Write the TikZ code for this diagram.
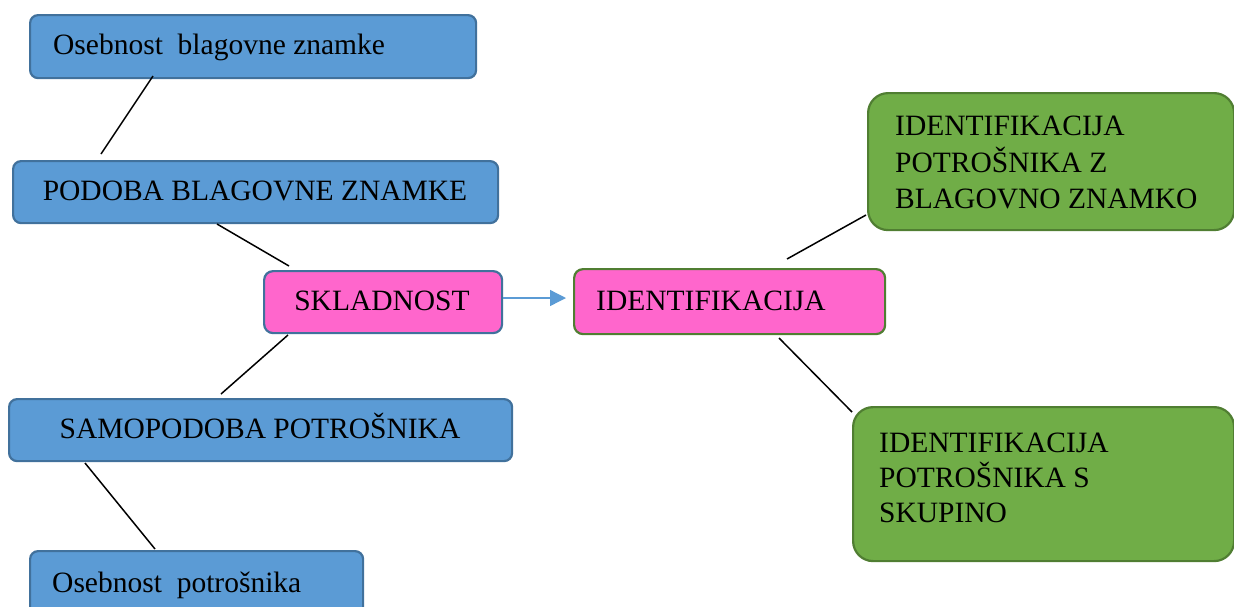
\documentclass[tikz,border=0pt]{standalone}
\usepackage{fontspec}
\setmainfont{Liberation Serif}
\usetikzlibrary{arrows.meta,calc}
\definecolor{bfill}{HTML}{5B9BD5}
\definecolor{bline}{HTML}{41719C}
\definecolor{gfill}{HTML}{70AD47}
\definecolor{gline}{HTML}{507E32}
\definecolor{pfill}{HTML}{FF66CC}
\tikzset{
  box/.style={draw, line width=2.2pt, anchor=north west, inner sep=0pt},
  bluebox/.style={box, fill=bfill, draw=bline, rounded corners=8pt},
  pinkbox/.style={box, fill=pfill, rounded corners=9pt},
  greenbox/.style={box, fill=gfill, draw=gline, rounded corners=20pt},
  txt/.style={inner sep=0pt, font=\fontsize{29.5}{36.5}\selectfont, text=black},
  conn/.style={draw=black, line width=1.5pt},
}
\begin{document}
\begin{tikzpicture}[x=1pt,y=-1pt]
\useasboundingbox (0,0) rectangle (1234,606);
\clip (0,0) rectangle (1234,606);
% boxes
\node[bluebox, minimum width=446pt, minimum height=63pt] (b1) at (29,14) {};
\node[bluebox, minimum width=485pt, minimum height=62pt] (b2) at (12,160) {};
\node[pinkbox, draw=bline, minimum width=238pt, minimum height=62pt] (b3) at (263,270) {};
\node[pinkbox, draw=gline, minimum width=311pt, minimum height=65pt] (b4) at (573,268) {};
\node[bluebox, minimum width=503pt, minimum height=62pt] (b5) at (8,398) {};
\node[bluebox, minimum width=333pt, minimum height=70pt] (b6) at (29,550) {};
\node[greenbox, minimum width=366pt, minimum height=137pt] (g1) at (867,92) {};
\node[greenbox, minimum width=381pt, minimum height=154pt] (g2) at (852,406) {};
% texts
\node[txt, anchor=base west] (t1) at (53,54) {Osebnost\ \ blagovne znamke};
\node[txt, anchor=base] (t2) at (255,200) {PODOBA BLAGOVNE ZNAMKE};
\node[txt, anchor=base] (t3) at (382,310) {SKLADNOST};
\node[txt, anchor=base west] (t4) at (596,310) {IDENTIFIKACIJA};
\node[txt, anchor=base] (t5) at (260,438) {SAMOPODOBA POTROŠNIKA};
\node[txt, anchor=base west] (t6) at (52,592) {Osebnost\ \ potrošnika};
\node[txt, anchor=base west] (t7a) at (895,135) {IDENTIFIKACIJA};
\node[txt, anchor=base west] (t7b) at (895,172) {POTROŠNIKA Z};
\node[txt, anchor=base west] (t7c) at (895,208) {BLAGOVNO ZNAMKO};
\node[txt, anchor=base west] (t8a) at (879,452) {IDENTIFIKACIJA};
\node[txt, anchor=base west] (t8b) at (879,487) {POTROŠNIKA S};
\node[txt, anchor=base west] (t8c) at (879,522) {SKUPINO};
% connector ends
\coordinate (c1a) at (153,76);  \coordinate (c1b) at (101,154);
\coordinate (c2a) at (217,224); \coordinate (c2b) at (289,266);
\coordinate (c3a) at (288,335); \coordinate (c3b) at (221,394);
\coordinate (c4a) at (85,463);  \coordinate (c4b) at (155,549);
\coordinate (c5a) at (787,259); \coordinate (c5b) at (866,215);
\coordinate (c6a) at (779,338); \coordinate (c6b) at (852,412);
\coordinate (arrEnd) at (566,298);
\draw[conn] (c1a) -- (c1b);
\draw[conn] (c2a) -- (c2b);
\draw[conn] (c3a) -- (c3b);
\draw[conn] (c4a) -- (c4b);
\draw[conn] (c5a) -- (c5b);
\draw[conn] (c6a) -- (c6b);
\draw[draw=bfill, line width=1.3pt, -{Triangle[length=16pt,width=16pt]}] (b3.east |- arrEnd) -- (arrEnd);
\end{tikzpicture}
\end{document}
